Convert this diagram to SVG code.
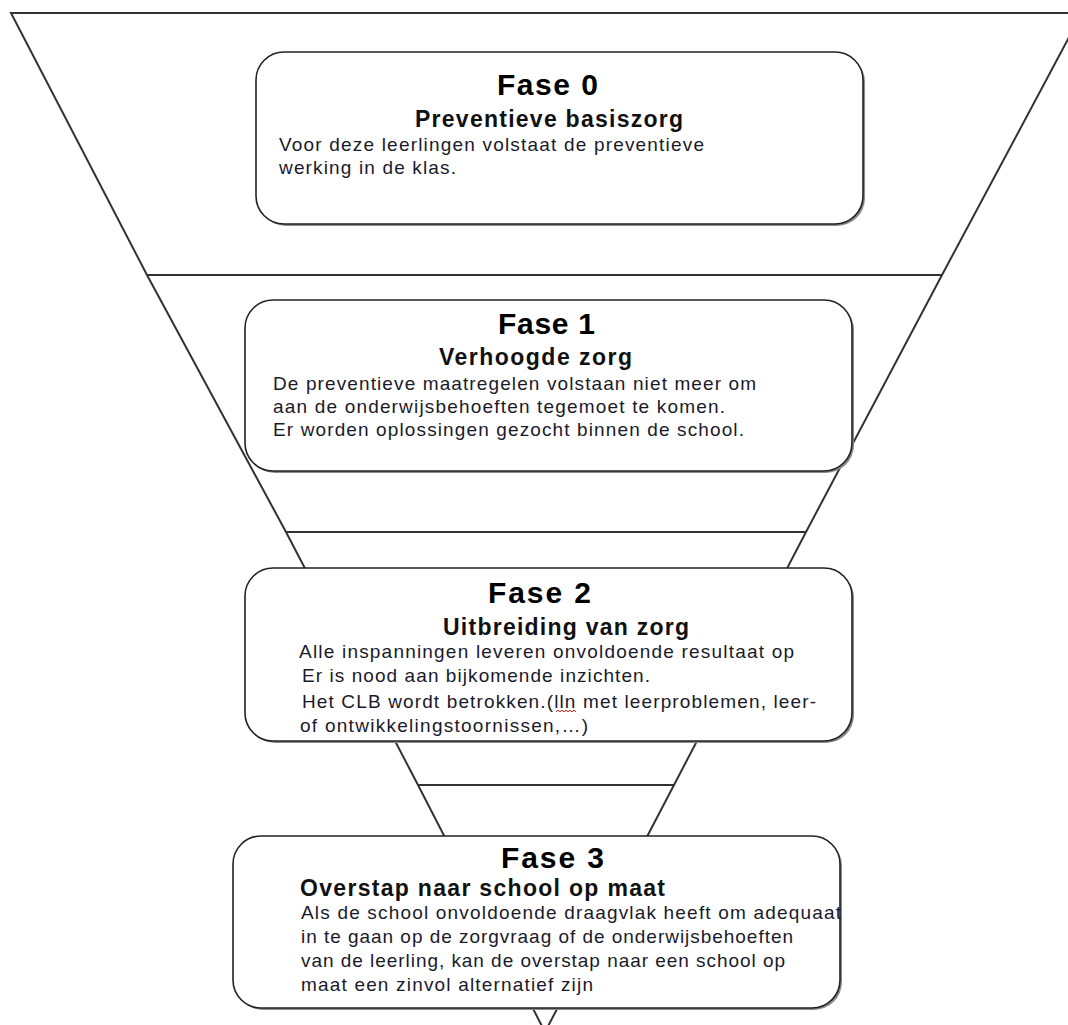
<svg xmlns="http://www.w3.org/2000/svg" width="1068" height="1025" viewBox="0 0 1068 1025">
<defs>
<style>
.fl{fill:none;stroke:#333;stroke-width:2;stroke-linejoin:miter}
.sh{fill:#8a8a8a;stroke:none}
.bx{fill:#fff;stroke:#222;stroke-width:1.6}
.t{font-family:"Liberation Sans",Arial,sans-serif;font-weight:bold;font-size:30px;fill:#000}
.s{font-family:"Liberation Sans",Arial,sans-serif;font-weight:bold;font-size:23px;fill:#111}
.b{font-family:"Liberation Sans",Arial,sans-serif;font-size:19px;fill:#1a1a2a}
</style>
</defs>
<rect width="1068" height="1025" fill="#fff"/>
<g id="funnel">
<polyline class="fl" points="1068,13 11,13 147,275 286,532 418,785 545,1032"/>
<polyline class="fl" points="1082,13 942,275 806,532 674,785 545,1032"/>
<line class="fl" x1="147" y1="275" x2="942" y2="275"/>
<line class="fl" x1="286" y1="532" x2="806" y2="532"/>
<line class="fl" x1="418" y1="785" x2="674" y2="785"/>
</g>
<g id="fase0">
<rect class="sh" x="258" y="54" width="607" height="172" rx="28"/>
<rect class="bx" x="256" y="52" width="607" height="172" rx="28"/>
<text class="t" x="497" y="95" textLength="101" lengthAdjust="spacing">Fase 0</text>
<text class="s" x="415" y="127" textLength="268" lengthAdjust="spacing">Preventieve basiszorg</text>
<text class="b" x="279" y="151" textLength="425" lengthAdjust="spacing">Voor deze leerlingen volstaat de preventieve</text>
<text class="b" x="279" y="174" textLength="177" lengthAdjust="spacing">werking in de klas.</text>
</g>
<g id="fase1">
<rect class="sh" x="247" y="302" width="607" height="171" rx="28"/>
<rect class="bx" x="245" y="300" width="607" height="171" rx="28"/>
<text class="t" x="498" y="334" textLength="97" lengthAdjust="spacing">Fase 1</text>
<text class="s" x="439" y="365" textLength="193" lengthAdjust="spacing">Verhoogde zorg</text>
<text class="b" x="273" y="390" textLength="483" lengthAdjust="spacing">De preventieve maatregelen volstaan niet meer om</text>
<text class="b" x="273" y="413" textLength="452" lengthAdjust="spacing">aan de onderwijsbehoeften tegemoet te komen.</text>
<text class="b" x="273" y="436" textLength="471" lengthAdjust="spacing">Er worden oplossingen gezocht binnen de school.</text>
</g>
<g id="fase2">
<rect class="sh" x="247" y="570" width="607" height="173" rx="28"/>
<rect class="bx" x="245" y="568" width="607" height="173" rx="28"/>
<text class="t" x="488" y="603" textLength="103" lengthAdjust="spacing">Fase 2</text>
<text class="s" x="443" y="635" textLength="246" lengthAdjust="spacing">Uitbreiding van zorg</text>
<text class="b" x="299" y="658" textLength="495" lengthAdjust="spacing">Alle inspanningen leveren onvoldoende resultaat op</text>
<text class="b" x="302" y="682" textLength="348" lengthAdjust="spacing">Er is nood aan bijkomende inzichten.</text>
<text class="b" x="302" y="708" textLength="514" lengthAdjust="spacing">Het CLB wordt betrokken.(lln met leerproblemen, leer-</text>
<text class="b" x="300" y="732" textLength="288" lengthAdjust="spacing">of ontwikkelingstoornissen,…)</text>
<path d="M556,712 l2,-2 l2,2 l2,-2 l2,2 l2,-2 l2,2 l2,-2 l2,2 l2,-2 l2,2" fill="none" stroke="#e02020" stroke-width="1"/>
</g>
<g id="fase3">
<rect class="sh" x="235" y="838" width="607" height="172" rx="28"/>
<rect class="bx" x="233" y="836" width="607" height="172" rx="28"/>
<text class="t" x="501" y="868" textLength="103" lengthAdjust="spacing">Fase 3</text>
<text class="s" x="300" y="896" textLength="365" lengthAdjust="spacing">Overstap naar school op maat</text>
<text class="b" x="301" y="919" textLength="540" lengthAdjust="spacing">Als de school onvoldoende draagvlak heeft om adequaat</text>
<text class="b" x="301" y="943" textLength="492" lengthAdjust="spacing">in te gaan op de zorgvraag of de onderwijsbehoeften</text>
<text class="b" x="301" y="967" textLength="484" lengthAdjust="spacing">van de leerling, kan de overstap naar een school op</text>
<text class="b" x="301" y="991" textLength="292" lengthAdjust="spacing">maat een zinvol alternatief zijn</text>
</g>
</svg>
